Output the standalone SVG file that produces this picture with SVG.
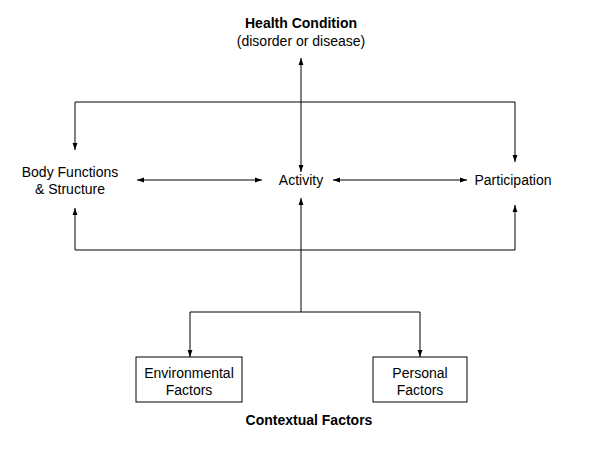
<svg xmlns="http://www.w3.org/2000/svg" width="602" height="451" viewBox="0 0 602 451">
<style>
text{font-family:"Liberation Sans",Arial,sans-serif;font-size:14px;fill:#000;text-anchor:middle}
.b{font-weight:bold}
.l{stroke:#000;stroke-width:1;fill:none}
.box{fill:#fff;stroke:#000;stroke-width:1}
</style>
<defs>
<marker id="a" viewBox="0 0 10 10" refX="10" refY="5" markerWidth="7" markerHeight="7" orient="auto-start-reverse" markerUnits="userSpaceOnUse">
<path d="M0,1.5L10,5L0,8.5z" fill="#000"/>
</marker>
</defs>
<rect width="602" height="451" fill="#fff"/>
<g id="health"><text x="301" y="28" class="b">Health Condition</text><text x="301" y="46">(disorder or disease)</text></g>
<g id="body"><text x="70" y="177">Body Functions</text><text x="70" y="194">&amp; Structure</text></g>
<g id="activity"><text x="301" y="185">Activity</text></g>
<g id="participation"><text x="513" y="185">Participation</text></g>
<g id="env"><rect x="136" y="357" width="106" height="45" class="box"/><text x="189" y="378">Environmental</text><text x="189" y="395">Factors</text></g>
<g id="pers"><rect x="373" y="357" width="94" height="45" class="box"/><text x="420" y="378">Personal</text><text x="420" y="395">Factors</text></g>
<g id="ctx"><text x="309" y="425" class="b">Contextual Factors</text></g>
<g id="connectors">
<line class="l" x1="301" y1="58" x2="301" y2="172" marker-start="url(#a)" marker-end="url(#a)"/>
<polyline class="l" points="75,150 75,102 515,102 515,162" marker-start="url(#a)" marker-end="url(#a)"/>
<line class="l" x1="137" y1="180" x2="262" y2="180" marker-start="url(#a)" marker-end="url(#a)"/>
<line class="l" x1="333" y1="180" x2="467" y2="180" marker-start="url(#a)" marker-end="url(#a)"/>
<polyline class="l" points="75,208 75,250 515,250 515,205" marker-start="url(#a)" marker-end="url(#a)"/>
<line class="l" x1="301" y1="312" x2="301" y2="198" marker-end="url(#a)"/>
<polyline class="l" points="190,357 190,312 420,312 420,357" marker-start="url(#a)" marker-end="url(#a)"/>
</g>
</svg>
